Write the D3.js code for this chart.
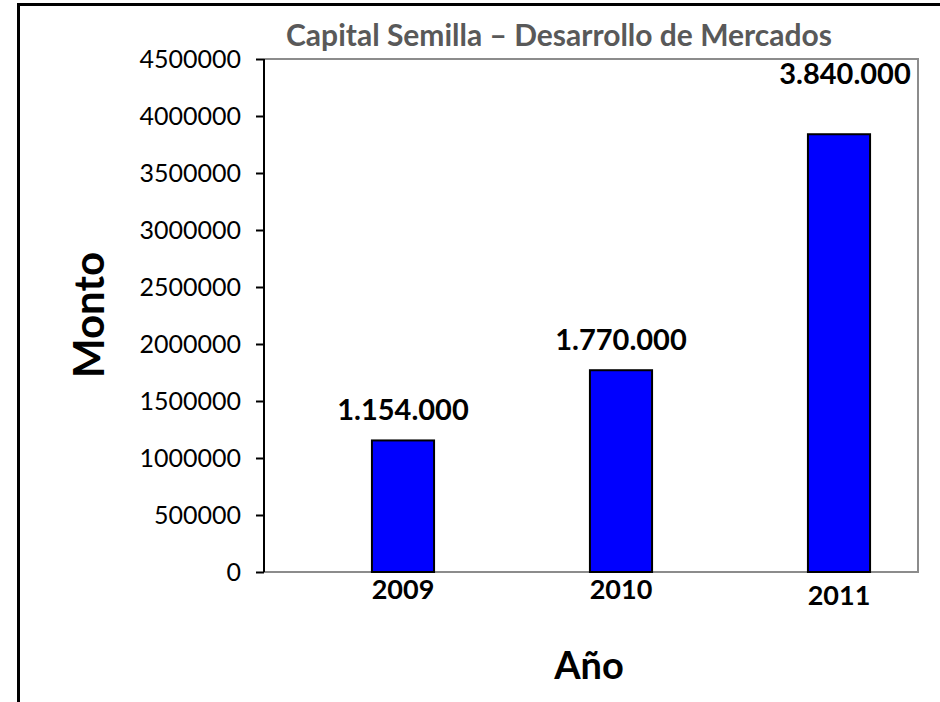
<!DOCTYPE html>
<html>
<head>
<meta charset="utf-8">
<script src="https://cdn.jsdelivr.net/npm/d3@7"></script>
<style>
  body { margin: 0; background: #fff; }
  svg { display: block; }
  svg text { font-family: Lato, "Open Sans", sans-serif; }
</style>
</head>
<body>
<div id="chart"></div>
<script>
// data //
const years = ["2009", "2010", "2011"];
const amounts = [1154000, 1770000, 3840000];
const amountLabels = ["1.154.000", "1.770.000", "3.840.000"];
const yTicks = [0, 500000, 1000000, 1500000, 2000000, 2500000, 3000000, 3500000, 4000000, 4500000];

const W = 940, H = 702;
const plot = { left: 264, right: 918, top: 59, bottom: 572 };

const svg = d3.select("#chart").append("svg")
  .attr("width", W)
  .attr("height", H);

// outer chart border (runs off the right/bottom of the picture)
svg.append("rect")
  .attr("x", 18.5).attr("y", 4.5)
  .attr("width", 1000).attr("height", 800)
  .attr("fill", "none")
  .attr("stroke", "#000")
  .attr("stroke-width", 3);

// scales
const x = d3.scaleBand()
  .domain(years)
  .range([plot.left + 30, plot.right + 30])
  .paddingInner(0.715)
  .paddingOuter(0.3575);

const y = d3.scaleLinear()
  .domain([0, 4500000])
  .range([plot.bottom, plot.top]);

// plot frame: gray top/right/bottom
svg.append("path")
  .attr("d", `M${plot.left},${plot.top}H${plot.right}V${plot.bottom}H${plot.left}`)
  .attr("fill", "none")
  .attr("stroke", "#8c8c8c")
  .attr("stroke-width", 2);

// bars
svg.selectAll(".bar")
  .data(years)
  .join("rect")
  .attr("class", "bar")
  .attr("x", d => x(d))
  .attr("width", x.bandwidth())
  .attr("y", (d, i) => y(amounts[i]))
  .attr("height", (d, i) => plot.bottom - y(amounts[i]))
  .attr("fill", "#0000ff")
  .attr("stroke", "#000")
  .attr("stroke-width", 2);

// y axis
svg.append("g")
  .attr("transform", `translate(${plot.left},0)`)
  .call(d3.axisLeft(y)
    .tickValues(yTicks)
    .tickFormat(d3.format("d"))
    .tickSize(8)
    .tickPadding(15))
  .call(g => g.attr("font-family", null))
  .call(g => g.select(".domain").attr("stroke-width", 2).attr("d", `M0,${plot.top}V${plot.bottom}`))
  .call(g => g.selectAll(".tick line").attr("stroke-width", 2))
  .selectAll(".tick text")
  .style("font-size", "25px")
  .attr("fill", "#000");

// x axis labels (no ticks)
svg.append("g")
  .attr("transform", `translate(0,${plot.bottom})`)
  .call(d3.axisBottom(x).tickSize(0).tickPadding(6))
  .call(g => g.attr("font-family", null))
  .call(g => g.select(".domain").remove())
  .selectAll(".tick text")
  .attr("dy", (d, i) => i === 2 ? "1.0em" : "0.78em")
  .style("font-size", "27px")
  .style("font-weight", "bold")
  .attr("fill", "#000");

// value labels
const labelGap = [20, 20, 50];
svg.selectAll(".val")
  .data(years)
  .join("text")
  .attr("class", "val")
  .attr("x", (d, i) => x(d) + x.bandwidth() / 2 + (i === 2 ? 6 : 0))
  .attr("y", (d, i) => y(amounts[i]) - labelGap[i])
  .attr("text-anchor", "middle")
  .style("font-size", "29px")
  .style("font-weight", "bold")
  .attr("fill", "#000")
  .text((d, i) => amountLabels[i]);

// title
svg.append("text")
  .attr("x", 559)
  .attr("y", 46)
  .attr("text-anchor", "middle")
  .style("font-size", "30px")
  .style("font-weight", "bold")
  .attr("fill", "#595959")
  .text("Capital Semilla – Desarrollo de Mercados");

// axis titles
svg.append("text")
  .attr("transform", "translate(104,315) rotate(-90)")
  .attr("text-anchor", "middle")
  .style("font-size", "42px")
  .style("font-weight", "bold")
  .attr("fill", "#000")
  .text("Monto");

svg.append("text")
  .attr("x", 589)
  .attr("y", 679)
  .attr("text-anchor", "middle")
  .style("font-size", "38px")
  .style("font-weight", "bold")
  .attr("fill", "#000")
  .text("Año");
</script>
</body>
</html>
